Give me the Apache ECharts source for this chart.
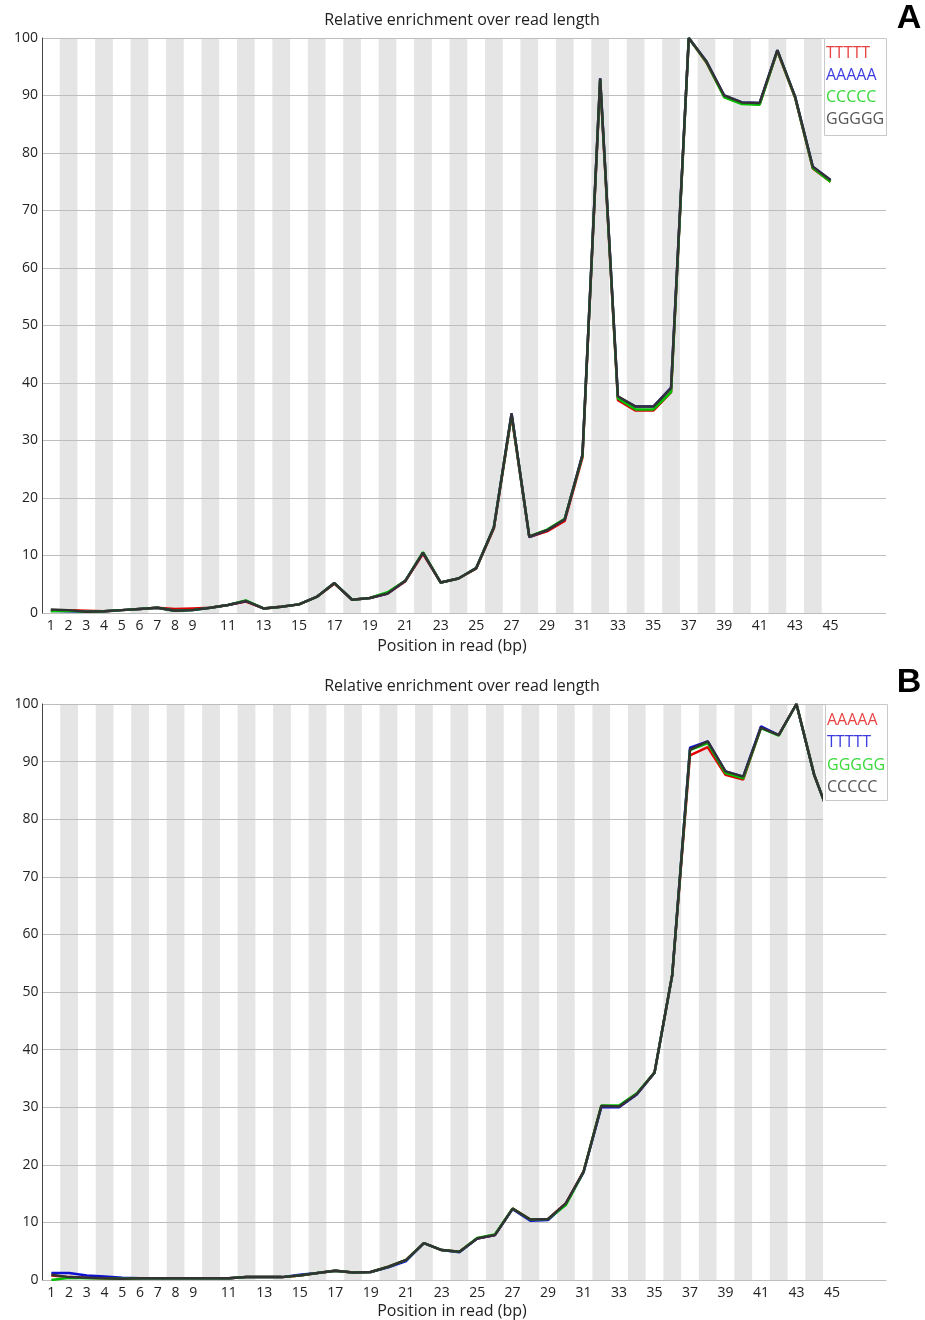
<!DOCTYPE html>
<html>
<head>
<meta charset="utf-8">
<script src="https://cdn.jsdelivr.net/npm/echarts@6/dist/echarts.min.js"></script>
<style>
html,body{margin:0;padding:0;background:#fff;}
#c{width:925px;height:1320px;}
</style>
</head>
<body>
<div id="c"></div>
<script>
// ---------- DATA ----------
const positions = Array.from({length:45},(_,i)=>String(i+1));
const shownXLabels = ['1','2','3','4','5','6','7','8','9','11','13','15','17','19','21','23','25','27','29','31','33','35','37','39','41','43','45'];
const yTicks = [0,10,20,30,40,50,60,70,80,90,100];

const chartTitle = 'Relative enrichment over read length';
const xAxisTitle = 'Position in read (bp)';

// Panel A
const namesA = ['TTTTT','AAAAA','CCCCC','GGGGG'];
const A_TTTTT = [0.5,0.5,0.4,0.3,0.5,0.7,0.9,0.7,0.8,0.9,1.4,2.0,0.8,1.1,1.5,2.8,5.1,2.3,2.6,3.4,5.5,10.3,5.3,6.0,7.7,14.7,34.3,13.2,14.2,16.0,27.0,92.5,37.0,35.2,35.2,38.4,100,95.7,89.8,88.6,88.5,97.7,89.6,77.3,75.0];
const A_AAAAA = [0.4,0.3,0.2,0.3,0.5,0.7,0.9,0.4,0.5,0.9,1.4,2.1,0.8,1.1,1.5,2.8,5.2,2.3,2.6,3.4,5.6,10.5,5.3,6.0,7.8,14.9,34.7,13.2,14.4,16.3,27.5,93.0,37.6,35.9,35.9,39.2,100,95.9,90.0,88.8,88.7,97.9,89.8,77.6,75.3];
const A_CCCCC = [0.3,0.4,0.2,0.3,0.5,0.7,0.9,0.4,0.5,0.9,1.4,2.2,0.8,1.1,1.5,2.8,5.2,2.3,2.6,3.6,5.6,10.6,5.3,6.0,7.8,14.9,34.5,13.3,14.5,16.4,27.3,92.8,37.3,35.4,35.4,38.4,100,95.8,89.7,88.5,88.4,97.8,89.7,77.4,75.0];
const A_GGGGG = [0.6,0.5,0.2,0.3,0.5,0.7,0.9,0.4,0.5,0.9,1.4,2.1,0.8,1.1,1.5,2.8,5.2,2.3,2.6,3.4,5.6,10.5,5.3,6.0,7.8,14.9,34.7,13.3,14.4,16.3,27.5,93.0,37.7,35.9,35.9,39.1,100,95.9,90.0,88.8,88.7,97.9,89.8,77.6,75.3];

// Panel B
const namesB = ['AAAAA','TTTTT','GGGGG','CCCCC'];
const B_AAAAA = [0.8,0.5,0.4,0.3,0.2,0.3,0.3,0.3,0.3,0.3,0.3,0.5,0.5,0.5,0.8,1.2,1.6,1.3,1.4,2.3,3.5,6.4,5.2,4.9,7.2,7.8,12.4,10.5,10.6,13.3,18.8,30.2,30.1,32.3,36.0,53.0,91.1,92.5,87.7,86.9,95.9,94.6,100,87.7,79.5];
const B_TTTTT = [1.2,1.2,0.8,0.6,0.4,0.3,0.3,0.3,0.3,0.3,0.3,0.5,0.5,0.5,0.9,1.2,1.6,1.3,1.4,2.2,3.3,6.4,5.2,4.8,7.2,7.8,12.3,10.3,10.4,13.2,18.7,30.0,30.0,32.2,36.0,53.0,92.4,93.5,88.3,87.4,96.1,94.6,100,87.7,79.5];
const B_GGGGG = [0.0,0.4,0.3,0.3,0.2,0.3,0.3,0.3,0.3,0.3,0.3,0.5,0.5,0.5,0.8,1.2,1.6,1.3,1.4,2.3,3.5,6.4,5.2,4.9,7.3,7.9,12.4,10.5,10.6,13.0,18.8,30.3,30.3,32.4,36.0,53.0,92.0,93.2,88.0,87.1,95.8,94.5,100,87.7,79.5];
const B_CCCCC = [0.9,0.5,0.4,0.3,0.2,0.3,0.3,0.3,0.3,0.3,0.3,0.5,0.5,0.5,0.8,1.2,1.6,1.3,1.4,2.3,3.5,6.4,5.2,4.9,7.2,7.8,12.4,10.5,10.6,13.3,18.8,30.2,30.1,32.3,36.0,53.0,92.1,93.5,88.3,87.4,95.9,94.6,100,87.7,79.5];

// ---------- STYLE ----------
const FONT = '"Open Sans", "DejaVu Sans", sans-serif';
const lineColors = ['#e00000','#1010d0','#00c000','#333333'];
const legendColors = ['#e84444','#3c3ce0','#3ad83a','#555555'];

const panels = [
  {top:38, height:575, left:42, catW:17.72, series:[A_TTTTT,A_AAAAA,A_CCCCC,A_GGGGG], names:namesA,
   titleY:20, xNameY:646, letter:'A', letterY:19, legend:{x:824, y:38, w:62, h:97, maskH:122, textY0:53}},
  {top:704, height:576, left:42.5, catW:17.74, series:[B_AAAAA,B_TTTTT,B_GGGGG,B_CCCCC], names:namesB,
   titleY:686, xNameY:1311, letter:'B', letterY:683, legend:{x:825, y:704, w:62, h:96, maskH:122, textY0:720.5}}
];

const grid=[], xAxis=[], yAxis=[], series=[], graphic=[];
panels.forEach((p,pi)=>{
  const gMain = grid.length;
  grid.push({left:p.left, top:p.top, width:45*p.catW, height:p.height});
  const gExt = grid.length;
  grid.push({left:p.left, top:p.top, width:844, height:p.height});

  xAxis.push({
    type:'category', gridIndex:gMain, data:positions, boundaryGap:true, z:0,
    axisLine:{show:false}, axisTick:{show:false, interval:0},
    axisLabel:{interval:0, margin:6, color:'#222', fontSize:14, fontFamily:FONT,
      formatter:(v)=> shownXLabels.includes(v) ? v : ''},
    splitLine:{show:false},
    splitArea:{show:true, interval:0, areaStyle:{color:['rgba(255,255,255,0)','#e5e5e5']}}
  });
  xAxis.push({type:'value', gridIndex:gExt, min:0, max:1, show:false});

  yAxis.push({
    type:'value', gridIndex:gMain, min:0, max:100, interval:10, z:2,
    axisLine:{show:true, lineStyle:{color:'#444', width:1}},
    axisTick:{show:false},
    axisLabel:{margin:4, color:'#222', fontSize:14, fontFamily:FONT},
    splitLine:{show:false}
  });
  yAxis.push({
    type:'value', gridIndex:gExt, min:0, max:100, interval:10, z:1,
    axisLine:{show:false}, axisTick:{show:false}, axisLabel:{show:false},
    splitLine:{show:true, lineStyle:{color:'#bdbdbd', width:1}}
  });

  p.series.forEach((d,si)=>{
    series.push({
      type:'line', name:p.names[si]+'_'+pi, xAxisIndex:gMain, yAxisIndex:gMain,
      data:d, symbol:'none', smooth:false, z:3+si,
      lineStyle:{color:lineColors[si], width:2.5}, silent:true, animation:false
    });
  });

  graphic.push({type:'text', z:20, style:{text:chartTitle, x:462, y:p.titleY, textAlign:'center', textVerticalAlign:'middle', font:'16px '+FONT, fill:'#222'}});
  graphic.push({type:'text', z:20, style:{text:xAxisTitle, x:452, y:p.xNameY, textAlign:'center', textVerticalAlign:'middle', font:'16px '+FONT, fill:'#222'}});
  graphic.push({type:'text', z:20, style:{text:p.letter, x:909, y:p.letterY, textAlign:'center', textVerticalAlign:'middle', font:'bold 34px "Liberation Sans", Arial, sans-serif', fill:'#000'}});

  const L = p.legend;
  graphic.push({type:'rect', z:15, shape:{x:L.x-2, y:L.y+1, width:L.w+4, height:L.maskH}, style:{fill:'#fff', stroke:null}});
  graphic.push({type:'rect', z:16, shape:{x:L.x+0.5, y:L.y+0.5, width:L.w, height:L.h}, style:{fill:'#fff', stroke:'#c8c8c8', lineWidth:1}});
  p.names.forEach((n,si)=>{
    graphic.push({type:'text', z:17, style:{text:n, x:L.x+2, y:L.textY0+si*22.3, textAlign:'left', textVerticalAlign:'middle', font:'16px '+FONT, fill:legendColors[si]}});
  });
});

const chart = echarts.init(document.getElementById('c'), null, {renderer:'canvas'});
chart.setOption({
  animation:false,
  backgroundColor:'#fff',
  grid, xAxis, yAxis, series, graphic
});
</script>
</body>
</html>
